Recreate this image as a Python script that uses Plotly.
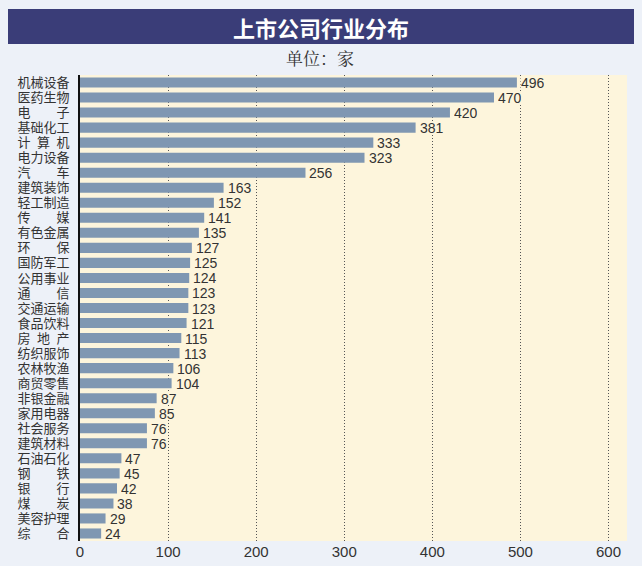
import plotly.graph_objects as go

categories = ["机械设备", "医药生物", "电　　子", "基础化工", "计\u2002算\u2002机", "电力设备",
              "汽　　车", "建筑装饰", "轻工制造", "传　　媒", "有色金属", "环　　保",
              "国防军工", "公用事业", "通　　信", "交通运输", "食品饮料", "房\u2002地\u2002产",
              "纺织服饰", "农林牧渔", "商贸零售", "非银金融", "家用电器", "社会服务",
              "建筑材料", "石油石化", "钢　　铁", "银　　行", "煤　　炭", "美容护理", "综　　合"]
values = [496, 470, 420, 381, 333, 323, 256, 163, 152, 141, 135, 127, 125, 124, 123, 123,
          121, 115, 113, 106, 104, 87, 85, 76, 76, 47, 45, 42, 38, 29, 24]
x_ticks = [0, 100, 200, 300, 400, 500, 600]

title_text = "上市公司行业分布"
unit_text = "单位：家"

CREAM = "#fdf5dc"
BG = "#edf1f8"
BAR = "#7f97b2"
NAVY = "#3a3d78"

W, H = 642, 566
L, R, T, B = 80, 15, 75, 25
pw, ph = W - L - R, H - T - B


def px_x(p):
    return (p - L) / pw


def px_y(p):
    return (H - B - p) / ph


fig = go.Figure(go.Bar(
    x=values, y=categories, orientation="h",
    marker=dict(color=BAR, line=dict(width=0)),
    hoverinfo="x+y",
))

annotations = []
for c, v in zip(categories, values):
    annotations.append(dict(
        x=v, y=c, xref="x", yref="y", text=str(v), showarrow=False,
        xanchor="left", yanchor="middle", xshift=3,
        font=dict(family="Liberation Sans, Arial, sans-serif", size=14, color="#333333"),
        bgcolor=CREAM, borderpad=0, height=11,
    ))

annotations.append(dict(
    x=px_x(321), y=px_y(27), xref="paper", yref="paper", text=f"<b>{title_text}</b>",
    showarrow=False, xanchor="center", yanchor="middle",
    font=dict(family="Noto Sans CJK SC, sans-serif", size=22, color="white"),
))
annotations.append(dict(
    x=px_x(320), y=px_y(57), xref="paper", yref="paper", text=unit_text,
    showarrow=False, xanchor="center", yanchor="middle",
    font=dict(family="Noto Serif CJK SC, Noto Sans CJK SC, serif", size=17, color="#333333"),
))

shapes = [dict(
    type="rect", xref="paper", yref="paper",
    x0=px_x(8), x1=px_x(634), y0=px_y(44), y1=px_y(9),
    fillcolor=NAVY, line=dict(width=0), layer="below",
)]

fig.update_layout(
    width=W, height=H,
    margin=dict(l=L, r=R, t=T, b=B, autoexpand=False),
    paper_bgcolor=BG, plot_bgcolor=CREAM,
    bargap=0.33, showlegend=False,
    annotations=annotations, shapes=shapes,
    xaxis=dict(
        range=[0, 621], tickvals=x_ticks, ticktext=[str(t) for t in x_ticks],
        showgrid=True, gridcolor="#555555", griddash="1px,2px", gridwidth=1,
        zeroline=False, showline=False, ticks="", automargin=False,
        tickfont=dict(family="Liberation Sans, Arial, sans-serif", size=15, color="#333333"),
        fixedrange=True,
    ),
    yaxis=dict(
        autorange="reversed", showgrid=False, zeroline=False,
        tickmode="array", tickvals=categories, ticktext=categories,
        showline=True, linecolor="#111111", linewidth=2, ticks="",
        ticklabelstandoff=6, automargin=False,
        tickfont=dict(family="Noto Sans CJK SC, sans-serif", size=13, color="#333333"),
        fixedrange=True,
    ),
    font=dict(family="Noto Sans CJK SC, sans-serif"),
)

fig.write_html(
    "out.html",
    config={"displayModeBar": False},
    post_script=f"document.body.style.margin='0';document.body.style.background='{BG}';",
)
